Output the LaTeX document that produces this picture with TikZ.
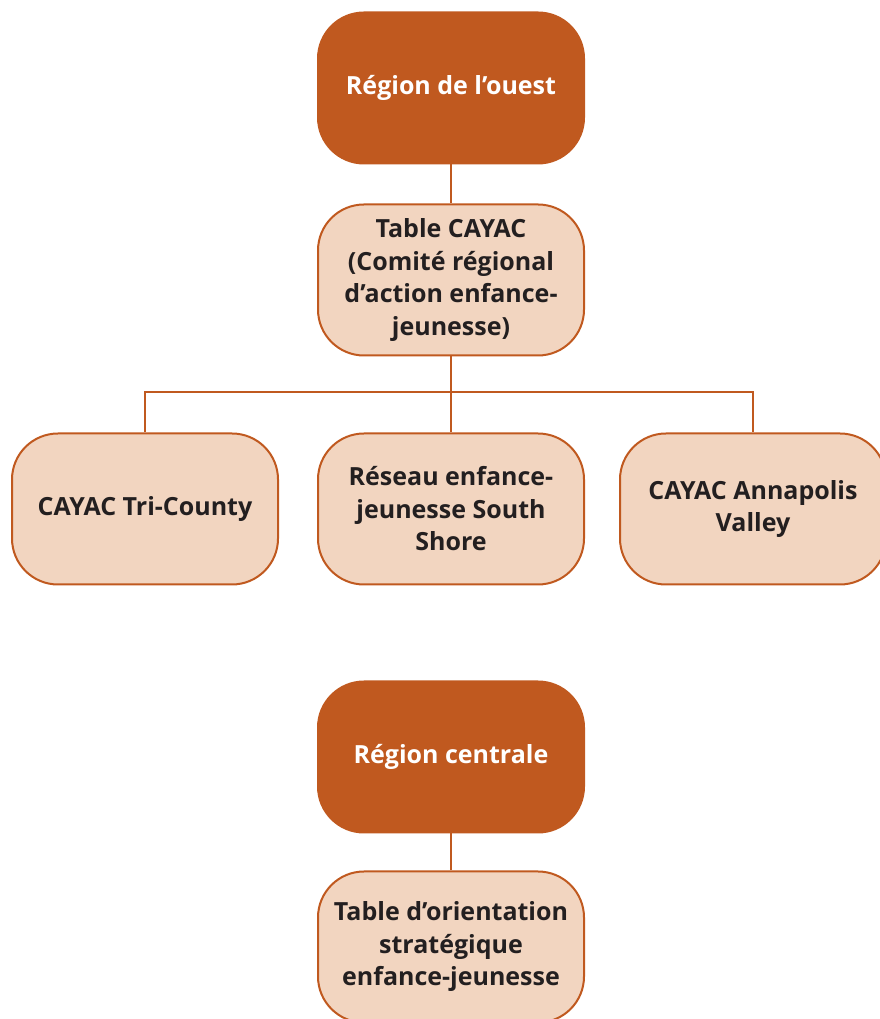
\documentclass[tikz,border=0pt]{standalone}
\usepackage{fontspec}
\setmainfont{Open Sans}
\usepackage{xcolor}
\usepackage{tikz}
\definecolor{rust}{HTML}{C0591F}
\definecolor{peach}{HTML}{F2D5C0}
\definecolor{ink}{HTML}{231F20}

\begin{document}
\begin{tikzpicture}[x=1pt,y=1pt,
  box/.style={draw=rust, line width=2pt, rounded corners=46pt, minimum width=266pt, minimum height=151pt, align=center, font=\bfseries\fontsize{25}{32.5}\selectfont},
  regionbox/.style={box, fill=rust, text=white},
  tablebox/.style={box, fill=peach, text=ink},
  link/.style={draw=rust, line width=2.5pt}]
\useasboundingbox (0,0) rectangle (879,1019);

\node[regionbox] (ouest) at (451,931) {Région de l’ouest};
\node[tablebox] (cayac) at (451,739) {Table CAYAC\\(Comité régional\\d’action enfance-\\jeunesse)};
\node[tablebox] (tri) at (145,510) {CAYAC Tri-County};
\node[tablebox] (south) at (451,510) {Réseau enfance-\\jeunesse South\\Shore};
\node[tablebox] (annapolis) at (753,510) {CAYAC Annapolis\\Valley};

\node[regionbox] (centrale) at (451,262) {Région centrale};
\node[tablebox] (orient) at (451,72) {Table d’orientation\\stratégique\\enfance-jeunesse};

\coordinate (bus) at (451,627);
\draw[link] (ouest) -- (cayac);
\draw[link] (cayac) -- (bus);
\draw[link] (bus) -| (tri);
\draw[link] (bus) -- (south);
\draw[link] (bus) -| (annapolis);
\draw[link] (centrale) -- (orient);
\end{tikzpicture}
\end{document}
